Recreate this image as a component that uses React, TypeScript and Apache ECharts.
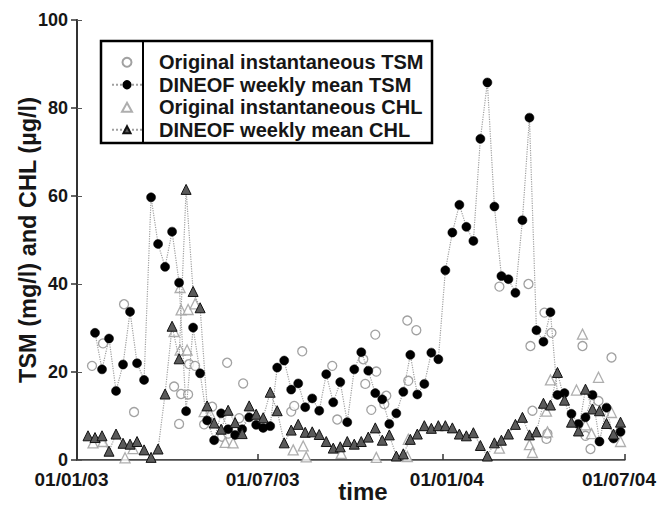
import React, { useEffect, useRef } from "react";
import * as echarts from "echarts";

// Days counted from 01/01/2003
const BASE_DATE = Date.UTC(2003, 0, 1);
const X_MIN_DAY = 0;
const X_MAX_DAY = 547;
const tickDays = [0, 181, 365, 547];
const yTicks = [0, 20, 40, 60, 80, 100];

const seriesNames = [
  "Original instantaneous TSM",
  "DINEOF weekly mean TSM",
  "Original instantaneous CHL",
  "DINEOF weekly mean CHL",
];

// Weekly DINEOF TSM (first week on day 18)
const tsmWeekStartDay = 18;
const tsmWeeklyValues = [
  28.9, 20.6, 27.6, 15.7, 21.7, 33.7, 22.0, 18.2, 59.7, 49.1,
  43.9, 51.9, 40.3, 11.1, 30.1, 19.7, 9.0, 4.5, 10.6, 7.0,
  5.7, 7.0, 9.7, 8.0, 7.3, 7.7, 21.0, 22.6, 16.0, 17.4,
  12.0, 14.0, 11.2, 19.5, 13.1, 17.7, 8.6, 20.6, 24.5, 20.3,
  15.2, 13.8, 8.2, 10.6, 15.5, 23.9, 14.9, 17.3, 24.4, 22.9,
  43.1, 51.7, 58.0, 53.0, 49.8, 73.0, 85.8, 57.6, 41.8, 41.1,
  38.0, 54.5, 77.8, 29.5, 26.9, 33.6, 14.8, 15.2, 10.5, 8.2,
  9.7, 14.8, 4.2, 11.9, 4.9, 6.4,
];

// Weekly DINEOF CHL (first week on day 11)
const chlWeekStartDay = 11;
const chlWeeklyValues = [
  5.5, 5.1, 5.5, 2.0, 5.9, 3.8, 3.6, 4.2, 2.3, 0.6,
  2.5, 15.0, 30.4, 23.0, 61.5, 38.3, 34.6, 12.3, 8.4, 7.0,
  11.3, 8.5, 6.0, 12.3, 10.4, 9.6, 15.4, 11.2, 3.9, 6.8,
  8.1, 6.3, 6.4, 5.8, 4.2, 2.7, 3.0, 4.2, 3.6, 4.2,
  5.2, 7.3, 4.5, 5.7, 0.9, 1.4, 4.7, 5.9, 7.8, 7.2,
  7.8, 7.8, 7.3, 5.9, 5.5, 6.2, 3.3, 0.9, 3.9, 4.5,
  5.9, 8.1, 9.7, 5.7, 6.4, 12.9, 12.5, 19.9, 13.6, 8.6,
  6.6, 16.1, 11.6, 11.2, 8.3, 5.9, 8.6,
];

// Original instantaneous TSM
const origTsmDays = [
  15, 26, 47, 57, 97, 102, 104, 111, 112, 118,
  127, 135, 145, 150, 151, 162, 166, 214, 217, 225,
  255, 260, 286, 288, 294, 298, 299, 307, 309, 330,
  331, 339, 422, 451, 453, 455, 467, 469, 470, 474,
  505, 508, 513, 521, 534,
];
const origTsmValues = [
  21.4, 26.5, 35.4, 10.9, 16.7, 8.2, 15.0, 14.9, 21.8, 21.4,
  8.1, 12.1, 5.3, 22.1, 6.0, 9.5, 17.4, 11.0, 12.3, 24.7,
  21.4, 9.2, 22.9, 17.3, 11.4, 28.5, 20.1, 12.7, 14.6, 31.7,
  18.0, 29.5, 39.4, 40.0, 25.9, 11.2, 33.5, 4.8, 6.0, 28.9,
  25.9, 5.5, 2.5, 13.4, 23.3,
];

// Original instantaneous CHL
const origChlDays = [
  16, 26, 48, 56, 97, 103, 103, 104, 110, 111,
  118, 127, 133, 148, 156, 216, 226, 229, 264, 299,
  330, 331, 422, 452, 455, 469, 470, 473, 499, 505,
  508, 514, 521, 534, 543,
];
const origChlValues = [
  3.9, 4.2, 0.5, 2.6, 29.2, 39.2, 25.0, 34.1, 25.0, 34.2,
  35.5, 11.0, 10.5, 4.0, 3.9, 2.3, 3.2, 0.7, 1.5, 0.6,
  0.8, 4.7, 2.7, 3.5, 1.7, 11.1, 6.4, 18.2, 15.9, 28.6,
  8.0, 6.0, 18.8, 10.8, 4.2,
];

const FONT = '"Liberation Sans", Arial, Helvetica, sans-serif';
const TEXT = "#161616";

const pad = (n: number) => (n < 10 ? "0" + n : "" + n);
const dayLabel = (d: number) => {
  const t = new Date(BASE_DATE + Math.round(d) * 86400000);
  return `${pad(t.getUTCDate())}/${pad(t.getUTCMonth() + 1)}/${pad(t.getUTCFullYear() % 100)}`;
};

export default function App() {
  const ref = useRef<HTMLDivElement>(null);

  useEffect(() => {
    if (!ref.current) return;
    const chart = echarts.init(ref.current, undefined, { renderer: "svg" });

    const tsmWeekly = tsmWeeklyValues.map((v, i) => [tsmWeekStartDay + 7 * i, v]);
    const chlWeekly = chlWeeklyValues.map((v, i) => [chlWeekStartDay + 7 * i, v]);
    const origTsm = origTsmDays.map((d, i) => [d, origTsmValues[i]]);
    const origChl = origChlDays.map((d, i) => [d, origChlValues[i]]);

    const xLabelStyle = { fontFamily: FONT, fontSize: 19, fontWeight: "bold" as const, color: TEXT, lineHeight: 19 };
    const yLabelStyle = { fontFamily: FONT, fontSize: 18, fontWeight: "bold" as const, color: TEXT, lineHeight: 14 };

    chart.setOption({
      animation: false,
      backgroundColor: "#ffffff",
      grid: { left: 77, right: 33, top: 20, bottom: 50 },
      legend: {
        orient: "vertical",
        left: 106,
        top: 46,
        itemWidth: 30,
        itemHeight: 9,
        itemGap: 0,
        symbolKeepAspect: true,
        data: [
          { name: seriesNames[0] },
          { name: seriesNames[1] },
          { name: seriesNames[2], icon: "path://M5,0 L10,9 L0,9 Z" },
          { name: seriesNames[3] },
        ],
        textStyle: {
          fontFamily: FONT,
          fontSize: 20,
          fontWeight: "bold",
          color: TEXT,
          lineHeight: 22.5,
          padding: [0, 0, 0, 12],
        },
      },
      xAxis: [
        {
          type: "value",
          min: X_MIN_DAY,
          max: X_MAX_DAY,
          position: "bottom",
          splitLine: { show: false },
          axisLine: { show: true, lineStyle: { color: "#4a4a4a", width: 2 } },
          axisTick: {
            show: true,
            inside: true,
            length: 6,
            customValues: tickDays,
            lineStyle: { color: "#333", width: 1.5 },
          },
          axisLabel: {
            customValues: tickDays,
            margin: 10,
            ...xLabelStyle,
            formatter: (v: number) =>
              v === X_MIN_DAY || v === X_MAX_DAY ? `{e|${dayLabel(v)}}` : `{m|${dayLabel(v)}}`,
            rich: {
              e: { ...xLabelStyle, padding: [0, 11, 0, 0] },
              m: { ...xLabelStyle, padding: [0, 0, 0, 9] },
            },
          },
        },
        {
          type: "value",
          min: X_MIN_DAY,
          max: X_MAX_DAY,
          position: "top",
          splitLine: { show: false },
          axisLine: { show: true, lineStyle: { color: "#777", width: 1 } },
          axisTick: { show: false },
          axisLabel: { show: false },
        },
      ],
      yAxis: [
        {
          type: "value",
          min: yTicks[0],
          max: yTicks[yTicks.length - 1],
          interval: 20,
          splitLine: { show: false },
          axisLine: { show: true, lineStyle: { color: "#777", width: 1 } },
          axisTick: { show: true, inside: true, length: 5, lineStyle: { color: "#555" } },
          axisLabel: { margin: 9, ...yLabelStyle },
        },
        {
          type: "value",
          min: yTicks[0],
          max: yTicks[yTicks.length - 1],
          interval: 20,
          position: "right",
          splitLine: { show: false },
          axisLine: { show: true, lineStyle: { color: "#333", width: 2 } },
          axisTick: { show: true, inside: true, length: 6, lineStyle: { color: "#333", width: 1.5 } },
          axisLabel: { show: false },
        },
      ],
      graphic: [
        {
          type: "rect",
          z: 100,
          shape: { x: 101, y: 41, width: 331, height: 102 },
          style: { fill: "none", stroke: "#000", lineWidth: 2.5 },
        },
        {
          type: "line",
          z: 100,
          shape: { x1: 143, y1: 41, x2: 143, y2: 143 },
          style: { stroke: "#000", lineWidth: 2 },
        },
        {
          type: "text",
          x: 28,
          y: 240,
          rotation: Math.PI / 2,
          style: {
            text: "TSM (mg/l) and CHL (µg/l)",
            font: `bold 23.5px ${FONT}`,
            fill: TEXT,
            textAlign: "center",
            textVerticalAlign: "middle",
          },
        },
        {
          type: "text",
          x: 363,
          y: 491,
          style: {
            text: "time",
            font: `bold 24px ${FONT}`,
            fill: TEXT,
            textAlign: "center",
            textVerticalAlign: "middle",
          },
        },
      ],
      series: [
        {
          name: seriesNames[0],
          type: "scatter",
          data: origTsm,
          symbol: "circle",
          symbolSize: 9,
          itemStyle: { color: "#ffffff", borderColor: "#8a8a8a", borderWidth: 1.3 },
        },
        {
          name: seriesNames[1],
          type: "line",
          data: tsmWeekly,
          symbol: "circle",
          symbolSize: 9,
          showAllSymbol: true,
          lineStyle: { color: "#a0a0a0", width: 1.2, type: "dotted" },
          itemStyle: { color: "#000000", borderColor: "#000000", borderWidth: 0.5 },
        },
        {
          name: seriesNames[2],
          type: "scatter",
          data: origChl,
          symbol: "triangle",
          symbolSize: 10,
          itemStyle: { color: "#ffffff", borderColor: "#9a9a9a", borderWidth: 1.3 },
        },
        {
          name: seriesNames[3],
          type: "line",
          data: chlWeekly,
          symbol: "triangle",
          symbolSize: 10,
          showAllSymbol: true,
          lineStyle: { color: "#a0a0a0", width: 1.2, type: "dotted" },
          itemStyle: { color: "#5a5a5a", borderColor: "#111111", borderWidth: 1 },
        },
      ],
    });

    return () => chart.dispose();
  }, []);

  return <div ref={ref} style={{ width: 670, height: 510, position: "absolute", left: 0, top: 0 }} />;
}
